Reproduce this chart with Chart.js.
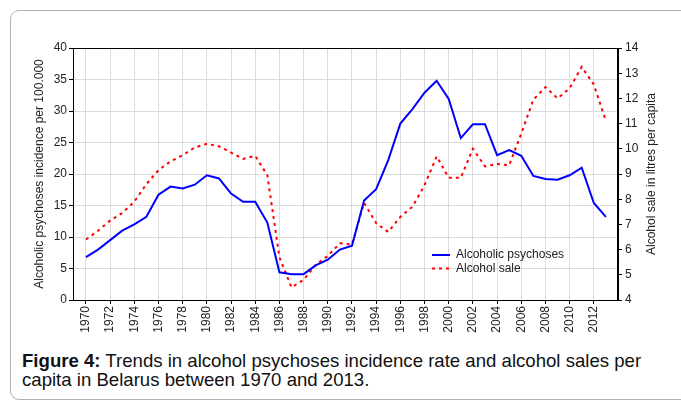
<!DOCTYPE html>
<html>
<head>
<meta charset="utf-8">
<script src="https://cdn.jsdelivr.net/npm/chart.js@4.4.0/dist/chart.umd.min.js"></script>
<style>
  body { margin: 0; background: #fff; width: 681px; height: 403px; overflow: hidden; position: relative; }
  #card { position: absolute; left: 10px; top: 10px; width: 700px; height: 388px; border: 1px solid #b4b4b4; border-radius: 9px; }
  #chart { position: absolute; left: 0; top: 0; }
  #caption { position: absolute; left: 22px; top: 351px; width: 655px; white-space: nowrap; font-family: "Liberation Sans", Arial, sans-serif; font-size: 18.6px; line-height: 19px; color: #111; }
</style>
</head>
<body>
<div id="card"></div>
<canvas id="chart" width="681" height="340"></canvas>
<div id="caption"><b>Figure 4:</b> Trends in alcohol psychoses incidence rate and alcohol sales per<br>capita in Belarus between 1970 and 2013.</div>
<script>
const years = [1970, 1971, 1972, 1973, 1974, 1975, 1976, 1977, 1978, 1979,
  1980, 1981, 1982, 1983, 1984, 1985, 1986, 1987, 1988, 1989,
  1990, 1991, 1992, 1993, 1994, 1995, 1996, 1997, 1998, 1999,
  2000, 2001, 2002, 2003, 2004, 2005, 2006, 2007, 2008, 2009,
  2010, 2011, 2012, 2013];

// incidence per 100.000 (left axis)
const psychoses = [6.8, 8.0, 9.5, 11.0, 12.0, 13.2, 16.7, 18.0, 17.7, 18.3,
  19.8, 19.3, 16.9, 15.6, 15.6, 12.3, 4.4, 4.1, 4.1, 5.5,
  6.4, 8.0, 8.6, 15.8, 17.6, 22.2, 28.0, 30.3, 32.9, 34.8,
  31.9, 25.7, 27.9, 27.9, 23.0, 23.8, 22.9, 19.7, 19.2, 19.1,
  19.8, 21.0, 15.4, 13.2];

// litres per capita (right axis)
const alcoholSale = [6.4, 6.75, 7.15, 7.45, 7.9, 8.6, 9.15, 9.5, 9.75, 10.05,
  10.2, 10.1, 9.85, 9.6, 9.72, 8.95, 5.7, 4.5, 4.8, 5.4,
  5.75, 6.25, 6.2, 7.85, 7.05, 6.7, 7.3, 7.7, 8.55, 9.7,
  8.85, 8.85, 10.0, 9.3, 9.4, 9.35, 10.6, 11.95, 12.45, 12.0,
  12.4, 13.25, 12.55, 11.1];

const xTicks = [];
for (let y = 1970; y <= 2012; y += 2) xTicks.push(y);

const seriesLabels = ["Alcoholic psychoses", "Alcohol sale"];

Chart.defaults.font.family = "'Liberation Sans', Arial, sans-serif";
Chart.defaults.font.size = 12;
Chart.defaults.color = "#222";

// frame round the plot, axis titles and the legend inside the plot
const extras = {
  id: "extras",
  afterDraw(chart) {
    const ctx = chart.ctx;
    const a = chart.chartArea;
    ctx.save();
    ctx.strokeStyle = "#000";
    ctx.lineWidth = 1;
    ctx.strokeRect(Math.round(a.left) + 0.5, Math.round(a.top) + 0.5, Math.round(a.right - a.left) - 1, Math.round(a.bottom - a.top));

    ctx.fillStyle = "#222";
    ctx.font = "12px 'Liberation Sans', Arial, sans-serif";
    ctx.textAlign = "center";
    ctx.textBaseline = "middle";
    const midY = (a.top + a.bottom) / 2;
    ctx.save();
    ctx.translate(40, midY);
    ctx.rotate(-Math.PI / 2);
    ctx.fillText("Alcoholic psychoses incidence per 100.000", 0, 0);
    ctx.restore();
    ctx.save();
    ctx.translate(652, midY);
    ctx.rotate(-Math.PI / 2);
    ctx.fillText("Alcohol sale in litres per capita", 0, 0);
    ctx.restore();

    // legend
    const lx = 432, ly = 255;
    chart.data.datasets.forEach((ds, i) => {
      const y = ly + i * 13.5;
      ctx.beginPath();
      ctx.strokeStyle = ds.borderColor;
      ctx.lineWidth = 2;
      ctx.setLineDash(ds.borderDash || []);
      ctx.moveTo(lx, y);
      ctx.lineTo(lx + 18, y);
      ctx.stroke();
      ctx.setLineDash([]);
      ctx.textAlign = "left";
      ctx.fillStyle = "#222";
      ctx.fillText(ds.label, lx + 24, y);
    });
    ctx.restore();
  }
};

new Chart(document.getElementById("chart"), {
  type: "line",
  data: {
    datasets: [
      {
        label: seriesLabels[0],
        data: years.map((y, i) => ({ x: y, y: psychoses[i] })),
        borderColor: "#0000ff",
        borderWidth: 2,
        pointRadius: 0,
        yAxisID: "y",
        tension: 0
      },
      {
        label: seriesLabels[1],
        data: years.map((y, i) => ({ x: y, y: alcoholSale[i] })),
        borderColor: "#ff0000",
        borderWidth: 2,
        borderDash: [3, 4],
        pointRadius: 0,
        yAxisID: "y2",
        tension: 0
      }
    ]
  },
  options: {
    responsive: false,
    animation: false,
    layout: { padding: { top: 48, left: 0, right: 0, bottom: 0 } },
    plugins: { legend: { display: false }, tooltip: { enabled: false } },
    scales: {
      x: {
        type: "linear",
        min: 1968.93,
        max: 2014,
        afterBuildTicks: (s) => { s.ticks = xTicks.map(v => ({ value: v })); },
        afterFit: (s) => { s.height = 40; },
        ticks: {
          autoSkip: false,
          maxRotation: 90,
          minRotation: 90,
          padding: 2,
          color: "#222",
          callback: (v) => String(v)
        },
        grid: { color: "#dcdcdc", tickColor: "#000", tickLength: 4, lineWidth: 1 },
        border: { color: "#000" }
      },
      y: {
        position: "left",
        min: 0,
        max: 40,
        afterFit: (s) => { s.width = 73; },
        ticks: { stepSize: 5, padding: 2, color: "#222" },
        grid: { color: "#dcdcdc", tickColor: "#000", tickLength: 4 },
        border: { color: "#000" }
      },
      y2: {
        position: "right",
        min: 4,
        max: 14,
        afterFit: (s) => { s.width = 63; },
        ticks: { stepSize: 1, padding: 3, color: "#222" },
        grid: { drawOnChartArea: false, tickColor: "#000", tickLength: 4 },
        border: { color: "#000" }
      }
    }
  },
  plugins: [extras]
});
</script>
</body>
</html>
